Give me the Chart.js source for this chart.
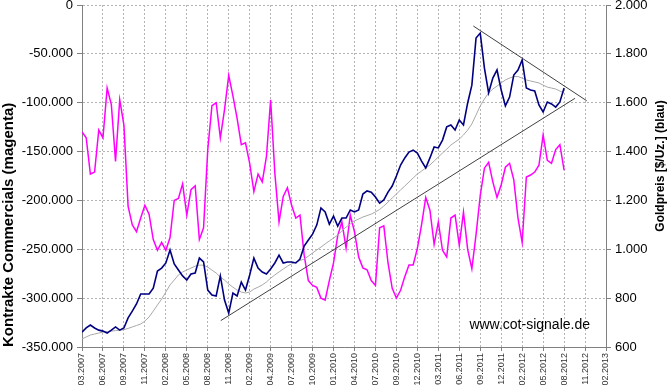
<!DOCTYPE html>
<html>
<head>
<meta charset="utf-8">
<script src="https://cdn.jsdelivr.net/npm/chart.js@4.4.0/dist/chart.umd.min.js"></script>
<style>
  html, body { margin: 0; padding: 0; background: #fff; }
</style>
</head>
<body>
<canvas id="chart" width="670" height="385"></canvas>
<script>
// x-axis labels, one every SUB data points
const xLabels = [
    '03.2007', '06.2007', '09.2007', '11.2007', '02.2008', '05.2008', '08.2008',
    '11.2008', '02.2009', '04.2009', '07.2009', '10.2009', '01.2010', '04.2010',
    '07.2010', '09.2010', '12.2010', '03.2011', '06.2011', '09.2011', '12.2011',
    '02.2012', '05.2012', '08.2012', '11.2012', '02.2013'
];
const SUB = 5;

// Netto-Kontrakte der Commercials (in Tausend)
const commercials = [
    -130, -136, -173, -171, -128, -136, -85, -102, -160, -97,
    -123, -206, -225, -232, -218, -205, -214, -240, -251, -243,
    -251, -238, -200, -198, -183, -215, -189, -185, -240, -228,
    -148, -103, -100, -136, -107, -72, -93, -116, -143, -141,
    -162, -191, -173, -181, -155, -97, -172, -222, -196, -187,
    -205, -218, -215, -256, -282, -287, -289, -300, -302, -282,
    -264, -236, -222, -249, -215, -232, -258, -269, -271, -282,
    -287, -228, -226, -264, -290, -300, -292, -278, -266, -266,
    -249, -225, -197, -210, -245, -222, -251, -258, -218, -215,
    -246, -212, -250, -270, -235, -195, -167, -161, -181, -197,
    -184, -166, -162, -179, -218, -243, -176, -174, -171, -164,
    -133, -159, -162, -148, -143, -169
];

// Goldpreis $/Uz.
const goldPrice = [
    661, 678, 690, 678, 669, 665, 657, 669, 682, 669,
    678, 719, 747, 776, 817, 817, 817, 841, 911, 923,
    944, 997, 940, 915, 891, 874, 899, 903, 964, 948,
    833, 813, 809, 891, 792, 739, 821, 809, 866, 833,
    895, 964, 923, 907, 899, 919, 944, 976, 944, 948,
    948, 944, 960, 1013, 1038, 1062, 1099, 1169, 1153, 1103,
    1136, 1095, 1128, 1128, 1161, 1153, 1161, 1226, 1239, 1234,
    1214, 1189, 1202, 1234, 1259, 1300, 1345, 1374, 1398, 1406,
    1394, 1361, 1333, 1374, 1419, 1415, 1447, 1501, 1509, 1488,
    1529, 1509, 1599, 1672, 1865, 1885, 1742, 1640, 1701, 1734,
    1652, 1587, 1623, 1713, 1734, 1775, 1660, 1652, 1648, 1591,
    1562, 1603, 1595, 1582, 1603, 1660
];

// gleitender Durchschnitt Gold
const goldAverage = [
    633, 641, 649, 653, 657, 661, 663, 665, 667, 669,
    671, 676, 682, 688, 694, 706, 723, 747, 772, 796,
    825, 854, 874, 895, 907, 915, 923, 931, 935, 935,
    927, 915, 903, 886, 874, 858, 845, 833, 825, 821,
    825, 837, 845, 854, 866, 882, 895, 907, 919, 931,
    940, 948, 954, 960, 972, 985, 997, 1009, 1022, 1034,
    1046, 1058, 1075, 1091, 1103, 1116, 1124, 1132, 1138, 1144,
    1153, 1163, 1177, 1193, 1210, 1226, 1243, 1259, 1275, 1292,
    1308, 1320, 1333, 1345, 1361, 1378, 1394, 1410, 1427, 1439,
    1451, 1468, 1488, 1513, 1550, 1587, 1615, 1640, 1656, 1668,
    1681, 1693, 1701, 1707, 1707, 1701, 1693, 1689, 1685, 1681,
    1672, 1664, 1660, 1656, 1648, 1640
];

// Trendlinien (x in Achsenabschnitten, y in $/Uz.)
const supportX = [6.62, 23.52];
const supportY = [708, 1618];
const resistX = [18.67, 24.08];
const resistY = [1914, 1608];

const commTicks = [0, -50000, -100000, -150000, -200000, -250000, -300000, -350000];
const goldTicks = [600, 800, 1000, 1200, 1400, 1600, 1800, 2000];

const FONT = '"Liberation Sans", Arial, sans-serif';

function dePoints(n) {
    const s = Math.abs(n).toString().replace(/\B(?=(\d{3})+(?!\d))/g, '.');
    return (n < 0 ? '-' : '') + s;
}

const toSeries = (arr, scale) => arr.map((v, i) => ({ x: i, y: v * scale }));
const toLine = (xs, ys) => xs.map((x, i) => ({ x: x * SUB, y: ys[i] }));

// keep the plot area where the original has it, labels may overflow
function fixY(width) {
    return (scale) => {
        scale.width = width;
        scale.paddingTop = 0;
        scale.paddingBottom = 0;
    };
}

const extraText = {
    id: 'extraText',
    afterDraw(chart) {
        const { ctx, chartArea } = chart;
        ctx.save();
        ctx.fillStyle = '#000';
        ctx.font = 'bold 12px ' + FONT;
        ctx.translate(chart.width - 9, 166);
        ctx.rotate(-Math.PI / 2);
        ctx.textAlign = 'center';
        ctx.textBaseline = 'middle';
        ctx.fillText('Goldpreis [$/Uz.] (blau)', 0, 0);
        ctx.restore();

        ctx.save();
        ctx.fillStyle = '#000';
        ctx.font = '14px ' + FONT;
        ctx.textAlign = 'right';
        ctx.textBaseline = 'alphabetic';
        ctx.fillText('www.cot-signale.de', chartArea.right - 16, chartArea.bottom - 18);
        ctx.restore();
    }
};

new Chart(document.getElementById('chart'), {
    type: 'line',
    data: {
        datasets: [
            {
                label: 'Widerstand',
                data: toLine(resistX, resistY),
                yAxisID: 'yGold',
                borderColor: '#404040',
                borderWidth: 1,
            },
            {
                label: 'Unterstützung',
                data: toLine(supportX, supportY),
                yAxisID: 'yGold',
                borderColor: '#404040',
                borderWidth: 1,
            },
            {
                label: 'Goldpreis',
                data: toSeries(goldPrice, 1),
                yAxisID: 'yGold',
                borderColor: '#000080',
                borderWidth: 1.6,
            },
            {
                label: 'Durchschnitt',
                data: toSeries(goldAverage, 1),
                yAxisID: 'yGold',
                borderColor: '#a8a8a8',
                borderWidth: 1,
            },
            {
                label: 'Commercials',
                data: toSeries(commercials, 1000),
                yAxisID: 'yComm',
                borderColor: '#ff00ff',
                borderWidth: 1.5,
            },
        ]
    },
    options: {
        responsive: false,
        animation: false,
        devicePixelRatio: 1,
        layout: { padding: { top: 5, left: 0, right: 0, bottom: 0 } },
        elements: {
            point: { radius: 0 },
            line: { tension: 0, fill: false },
        },
        plugins: {
            legend: { display: false },
            tooltip: { enabled: false },
        },
        scales: {
            x: {
                type: 'linear',
                min: 0,
                max: (xLabels.length - 1) * SUB,
                afterBuildTicks: (scale) => {
                    scale.ticks = xLabels.map((_, i) => ({ value: i * SUB }));
                },
                afterFit: (scale) => {
                    scale.height = 38;
                    scale.paddingLeft = 0;
                    scale.paddingRight = 0;
                },
                ticks: {
                    callback: (value) => xLabels[Math.round(value / SUB)],
                    autoSkip: false,
                    minRotation: 90,
                    maxRotation: 90,
                    padding: 2,
                    color: '#333',
                    font: { size: 9, family: FONT },
                },
                grid: {
                    color: '#b4b4b4',
                    tickColor: '#808080',
                    tickLength: 4,
                    tickBorderDash: [],
                },
                border: { color: '#808080', dash: [2, 2] },
            },
            yComm: {
                position: 'left',
                min: -350000,
                max: 0,
                afterBuildTicks: (scale) => {
                    scale.ticks = commTicks.map(v => ({ value: v }));
                },
                afterFit: fixY(82),
                ticks: {
                    callback: (value) => dePoints(value),
                    padding: 4,
                    color: '#000',
                    font: { size: 13, family: FONT },
                },
                grid: {
                    color: '#b4b4b4',
                    tickColor: '#808080',
                    tickLength: 5,
                    tickBorderDash: [],
                },
                border: { color: '#808080', dash: [2, 2] },
                title: {
                    display: true,
                    text: 'Kontrakte Commercials (magenta)',
                    align: 'start',
                    color: '#000',
                    padding: { top: 0, bottom: 0 },
                    font: { size: 15, weight: 'bold', family: FONT },
                },
            },
            yGold: {
                position: 'right',
                min: 600,
                max: 2000,
                afterBuildTicks: (scale) => {
                    scale.ticks = goldTicks.map(v => ({ value: v }));
                },
                afterFit: fixY(64),
                ticks: {
                    callback: (value) => dePoints(value),
                    padding: 4,
                    color: '#000',
                    font: { size: 13, family: FONT },
                },
                grid: {
                    drawOnChartArea: false,
                    tickColor: '#808080',
                    tickLength: 5,
                    tickBorderDash: [],
                },
                border: { color: '#808080' },
            },
        }
    },
    plugins: [extraText]
});
</script>
</body>
</html>
